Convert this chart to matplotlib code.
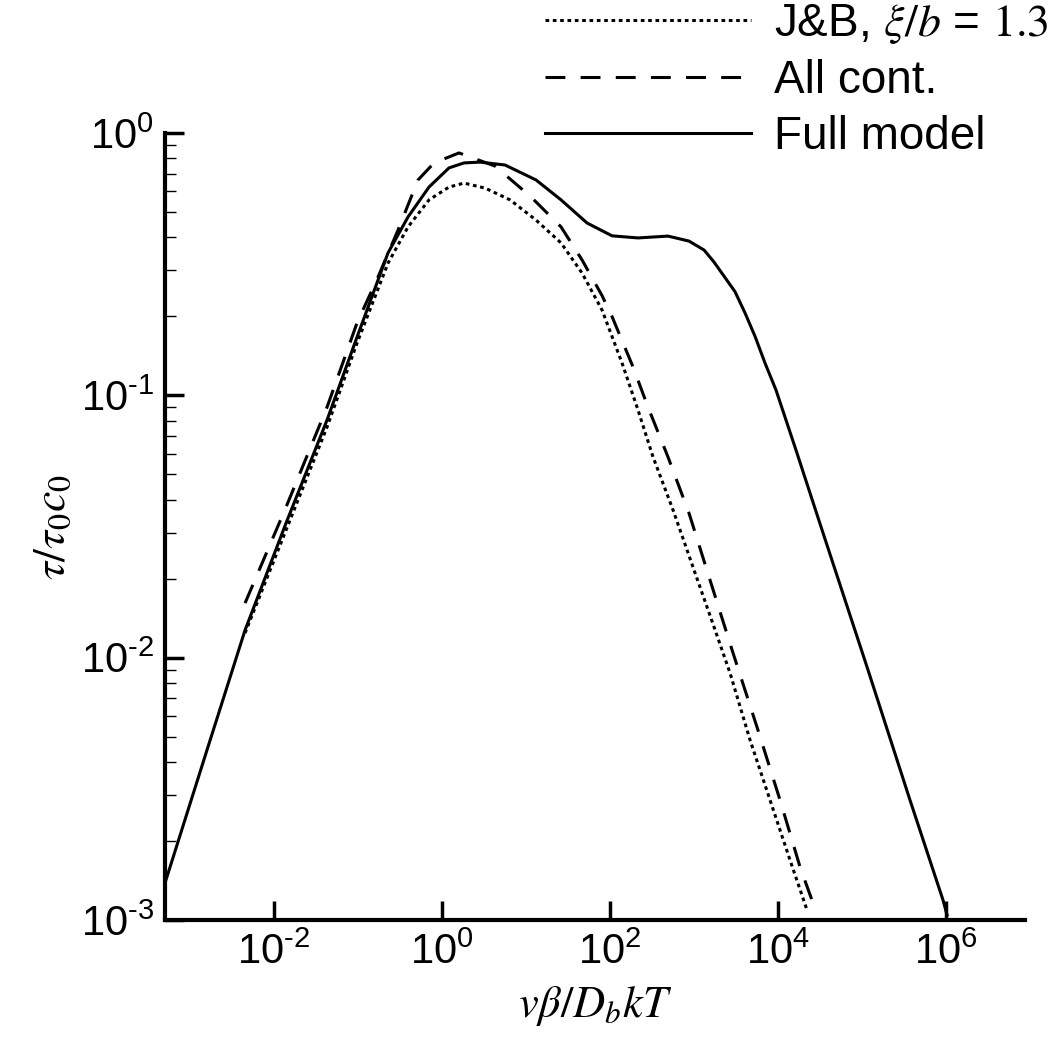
import numpy as np
import matplotlib
matplotlib.use('Agg')
from matplotlib import pyplot, ticker

pyplot.rcParams['font.family'] = ['Liberation Sans', 'DejaVu Sans']
pyplot.rcParams['mathtext.fontset'] = 'stix'

# curves, as log10 of x and y
full_logx = [-3.298, -2.798, -2.345, -1.857, -1.369, -1.012, -0.643, -0.405, -0.155, 0.083,
             0.262, 0.452, 0.75, 1.119, 1.417, 1.726, 2.024, 2.333, 2.69, 2.94,
             3.119, 3.238, 3.488, 3.607, 3.726, 3.845, 3.976, 4.214, 4.536, 5.060,
             5.571, 5.964, 6.012]
full_logy = [-2.859, -2.352, -1.895, -1.487, -1.094, -0.778, -0.457, -0.320, -0.206, -0.133,
             -0.114, -0.111, -0.122, -0.179, -0.255, -0.343, -0.392, -0.400, -0.393, -0.412,
             -0.446, -0.492, -0.605, -0.686, -0.775, -0.877, -0.980, -1.209, -1.525, -2.036,
             -2.543, -2.924, -2.981]

cont_logx = [-2.345, -1.857, -1.369, -1.012, -0.762, -0.524, -0.286, -0.095, 0.202, 0.631,
             1.060, 1.417, 1.667, 1.905, 2.024, 2.274, 2.452, 2.69, 2.94, 3.202,
             3.464, 3.75, 4.024, 4.262, 4.417]
cont_logy = [-1.792, -1.426, -1.045, -0.724, -0.549, -0.370, -0.179, -0.114, -0.076, -0.126,
             -0.244, -0.358, -0.484, -0.620, -0.700, -0.892, -1.045, -1.235, -1.449, -1.716,
             -1.982, -2.265, -2.543, -2.798, -2.936]

jb_logx = [-2.345, -1.857, -1.369, -1.012, -0.643, -0.405, -0.155, 0.083, 0.262, 0.512,
           0.81, 1.119, 1.417, 1.667, 1.905, 2.143, 2.333, 2.512, 2.75, 3.0,
           3.238, 3.429, 3.667, 3.905, 4.143, 4.345]
jb_logy = [-1.906, -1.514, -1.121, -0.801, -0.496, -0.358, -0.255, -0.206, -0.191, -0.210,
           -0.255, -0.332, -0.419, -0.534, -0.675, -0.877, -1.056, -1.235, -1.437, -1.666,
           -1.883, -2.059, -2.314, -2.543, -2.772, -2.962]

xticks = [1e-2, 1e0, 1e2, 1e4, 1e6]
yticks = [1e-3, 1e-2, 1e-1, 1e0]


def pow_label(v, pos):
    e = int(round(np.log10(v)))
    s = str(e).replace('-', '\u2010')
    return r'$\mathdefault{10^{%s}}$' % s


fig = pyplot.figure(figsize=(10.53, 10.40), dpi=100)
ax = fig.add_axes([165/1053, 1 - 920/1040, 860/1053, 787/1040])

lw = 2.2
ax.plot(10**np.array(jb_logx), 10**np.array(jb_logy), color='black', lw=lw,
        linestyle=(0, (1.2, 1.2)), label=r'J&B, $\xi/b$ = $1.3$')
ax.plot(10**np.array(cont_logx), 10**np.array(cont_logy), color='black', lw=lw,
        linestyle=(0, (6.5, 5.0)), label='All cont.')
ax.plot(10**np.array(full_logx), 10**np.array(full_logy), color='black', lw=lw,
        linestyle='-', label='Full model', solid_joinstyle='round')

ax.set_xscale('log')
ax.set_yscale('log')
ax.set_xlim(10**-3.298, 10**6.94)
ax.set_ylim(1e-3, 1e0)

ax.set_xticks(xticks)
ax.xaxis.set_minor_locator(ticker.NullLocator())
ax.set_yticks(yticks)
ax.yaxis.set_minor_locator(ticker.LogLocator(base=10, subs=np.arange(2, 10)))
ax.yaxis.set_minor_formatter(ticker.NullFormatter())
ax.xaxis.set_major_formatter(ticker.FuncFormatter(pow_label))
ax.yaxis.set_major_formatter(ticker.FuncFormatter(pow_label))

for side in ['top', 'right']:
    ax.spines[side].set_visible(False)
for side in ['left', 'bottom']:
    ax.spines[side].set_linewidth(3)

ax.tick_params(which='major', direction='in', length=13.5, width=2.5, labelsize=30, pad=8)
ax.tick_params(which='minor', direction='in', length=8, width=1.0)
ax.tick_params(axis='x', which='major', pad=9)

ax.set_xlabel(r'$v\beta/D_bkT$', fontsize=32, labelpad=8)
ax.set_ylabel(r'$\tau/\tau_0c_0$', fontsize=33, labelpad=4)

leg = ax.legend(loc='upper right', bbox_to_anchor=(1.0, 1.002), bbox_transform=fig.transFigure,
                frameon=False, fontsize=33, handlelength=4.5, handletextpad=0.5,
                labelspacing=0.27, borderpad=0.1, borderaxespad=0)

fig.savefig('out.png', dpi=100, facecolor='white')
